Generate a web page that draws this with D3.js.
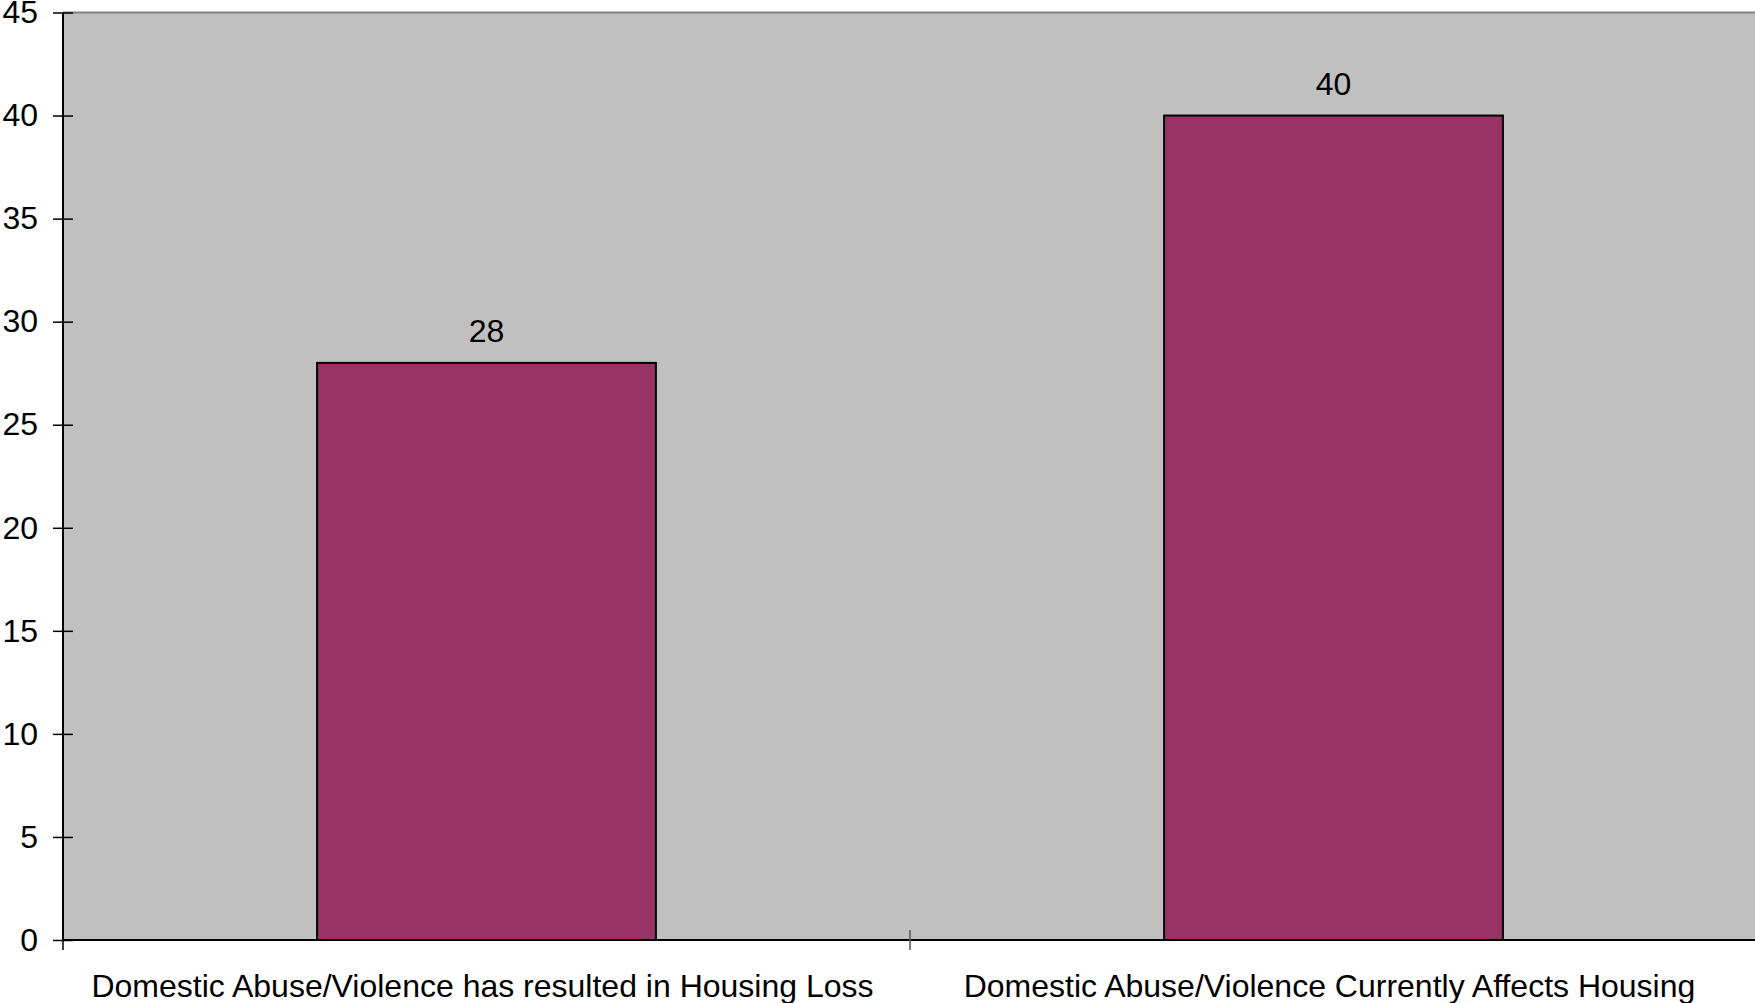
<!DOCTYPE html>
<html><head><meta charset="utf-8">
<script src="https://cdn.jsdelivr.net/npm/d3@7"></script>
<style>body{margin:0;background:#fff;}svg{display:block;}text{font-family:"Liberation Sans",Arial,sans-serif;}</style>
</head><body>
<svg id="c" width="1755" height="1003"></svg>
<script>
const categories = ["Domestic Abuse/Violence has resulted in Housing Loss", "Domestic Abuse/Violence Currently Affects Housing"];
const values = [28, 40];
const yTicks = [0, 5, 10, 15, 20, 25, 30, 35, 40, 45];

const svg = d3.select("#c");
const L = 63, R = 1757, T = 12.5, B = 940;
const x = d3.scaleBand().domain(categories).range([L, R]).paddingInner(0).paddingOuter(0);
const y = d3.scaleLinear().domain([0, 45]).range([B, T]);

svg.append("rect").attr("x", L).attr("y", T).attr("width", R - L).attr("height", B - T).attr("fill", "#C0C0C0");
svg.append("line").attr("x1", L).attr("x2", R).attr("y1", T).attr("y2", T).attr("stroke", "#808080").attr("stroke-width", 2);

const bw = x.bandwidth() * 0.4;
svg.selectAll("rect.bar").data(values).enter().append("rect").attr("class", "bar")
  .attr("x", (d, i) => x(categories[i]) + x.bandwidth() / 2 - bw / 2)
  .attr("y", d => y(d)).attr("width", bw).attr("height", d => B - y(d))
  .attr("fill", "#993366").attr("stroke", "#000").attr("stroke-width", 2);

svg.selectAll("text.val").data(values).enter().append("text").attr("class", "val")
  .attr("x", (d, i) => x(categories[i]) + x.bandwidth() / 2)
  .attr("y", d => y(d) - 20.5).attr("text-anchor", "middle").attr("font-size", 32).attr("fill", "#000")
  .text(d => d);

// Y axis
const yAxis = d3.axisLeft(y).tickValues(yTicks).tickSize(10).tickSizeInner(10).tickPadding(18);
const gy = svg.append("g").attr("transform", `translate(${L},0)`).call(yAxis);
gy.select(".domain").attr("stroke", "#000").attr("stroke-width", 2).attr("d", `M0,${T}V${B}`);
gy.selectAll(".tick line").attr("x1", -10).attr("x2", 10).attr("stroke", "#000").attr("stroke-width", 1.5);
gy.selectAll(".tick text").attr("font-size", 32).attr("fill", "#000").attr("font-family", "Liberation Sans, Arial, sans-serif").attr("x", -25);

// X axis
const gx = svg.append("g").attr("transform", `translate(0,${B})`);
gx.append("line").attr("x1", L).attr("x2", R).attr("y1", 0).attr("y2", 0).attr("stroke", "#000").attr("stroke-width", 2);
const bounds = [L, ...categories.slice(1).map(c => x(c))];
gx.selectAll("line.tk").data(bounds).enter().append("line").attr("class", "tk")
  .attr("x1", d => d).attr("x2", d => d).attr("y1", (d, i) => i === 0 ? 0 : -10).attr("y2", 10)
  .attr("stroke", (d, i) => i === 0 ? "#000" : "#555").attr("stroke-width", 1.5);
gx.selectAll("text.cat").data(categories).enter().append("text").attr("class", "cat")
  .attr("x", d => x(d) + x.bandwidth() / 2 - 4).attr("y", 57).attr("text-anchor", "middle")
  .attr("font-size", 32).attr("fill", "#000").text(d => d);
</script>
</body></html>
